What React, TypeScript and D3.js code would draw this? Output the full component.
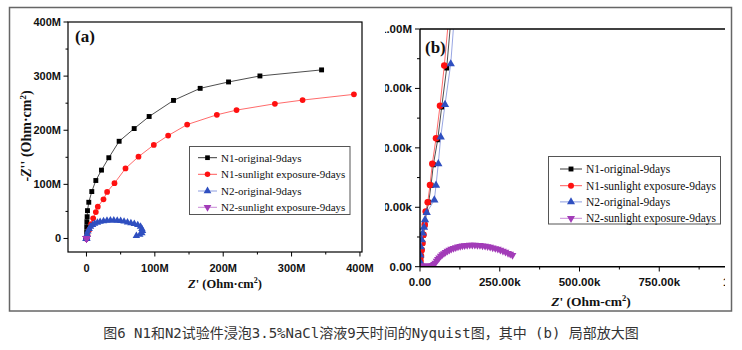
import * as d3 from "d3";

// Nyquist data, [Z', -Z''] in Ohm·cm²
const n1Original: [number, number][] = [
  [300, 5e3], [1.5e3, 24e3], [3e3, 45e3], [5e3, 70e3], [8e3, 100e3], [11e3, 134e3],
  [15e3, 176e3], [20e3, 228e3], [27.3e3, 271e3], [34.5e3, 342e3], [41.8e3, 429e3],
  [55.5e3, 534e3], [68e3, 672e3], [83.7e3, 836e3], [120e3, 1.4e6], [0.2e6, 3e6],
  [0.3e6, 12.4e6], [0.4e6, 21.7e6], [0.6e6, 31e6], [1.0e6, 40.2e6], [1.5e6, 51.4e6],
  [3.4e6, 66.9e6], [7.8e6, 86.7e6], [13.7e6, 107.1e6], [22e6, 126.3e6], [32.7e6, 149.2e6],
  [47.8e6, 179.6e6], [69.8e6, 203.1e6], [91.7e6, 225.4e6], [127.3e6, 255.1e6],
  [166.3e6, 277.4e6], [207.8e6, 289.2e6], [253.7e6, 300.3e6], [343.9e6, 311.5e6],
];

const n1Sunlight: [number, number][] = [
  [200, 4e3], [600, 11e3], [1.5e3, 24e3], [3e3, 45e3], [5.3e3, 70e3], [7.8e3, 100e3],
  [11e3, 134e3], [14.7e3, 176e3], [17.9e3, 232e3], [24.2e3, 271e3], [31.4e3, 344e3],
  [38.6e3, 433e3], [50.2e3, 540e3], [62.7e3, 677e3], [76.2e3, 846e3], [105e3, 1.27e6],
  [1.5e6, 6.2e6], [3.9e6, 15.5e6], [6.8e6, 26.6e6], [9.8e6, 37.2e6], [13.7e6, 48.9e6],
  [16.6e6, 58.8e6], [24.9e6, 72.4e6], [30.2e6, 86.1e6], [41e6, 102.2e6], [57.1e6, 129.4e6],
  [76.1e6, 151.1e6], [98.5e6, 172.8e6], [119.5e6, 190.1e6], [147.3e6, 210.5e6],
  [190.7e6, 228.5e6], [219.5e6, 237.2e6], [275.6e6, 248.9e6], [316.1e6, 255.7e6],
  [391.2e6, 266.3e6],
];

const n2Original: [number, number][] = [
  [300, 21e3], [1e3, 49e3], [2.2e3, 84e3], [5.3e3, 113e3], [8.5e3, 141e3], [12.5e3, 166e3],
  [15.7e3, 197e3], [21e3, 228e3], [44.9e3, 280e3], [50.2e3, 342e3], [57.4e3, 433e3],
  [64.9e3, 545e3], [78.4e3, 682e3], [96.3e3, 853e3], [130e3, 1.45e6], [0.3e6, 3e6],
  [1e6, 8e6], [2e6, 13e6], [4e6, 18e6], [6e6, 22e6], [9e6, 25e6], [12e6, 27.5e6],
  [16e6, 29.5e6], [20e6, 31e6], [25e6, 32e6], [30e6, 33e6], [35e6, 33.5e6], [40e6, 33.5e6],
  [45e6, 33e6], [50e6, 32.5e6], [55e6, 31.5e6], [60e6, 30e6], [65e6, 28.5e6], [70e6, 27e6],
  [75e6, 25e6], [79e6, 22e6], [81e6, 18e6], [82e6, 14e6], [81e6, 10e6], [78e6, 7e6],
  [73e6, 5e6],
];

const n2Sunlight: [number, number][] = [
  [0, 0], [1e3, 1e3], [2e3, 2e3], [3e3, 2.5e3], [5e3, 3e3], [8e3, 3e3], [12e3, 3e3],
  [16e3, 3e3], [20e3, 3e3], [25e3, 3e3], [30e3, 3.5e3], [35e3, 4e3], [40e3, 6e3],
  [44e3, 10e3], [48e3, 16e3], [52e3, 24e3], [56e3, 31e3], [60e3, 38e3], [65e3, 45e3],
  [70e3, 51e3], [75e3, 56e3], [80e3, 61e3], [86e3, 66e3], [92e3, 70e3], [98e3, 74e3],
  [105e3, 78e3], [112e3, 81e3], [119e3, 84e3], [126e3, 86e3], [133e3, 88e3], [140e3, 89e3],
  [148e3, 90e3], [156e3, 91e3], [164e3, 91e3], [172e3, 91e3], [180e3, 90.5e3],
  [188e3, 90e3], [196e3, 88.5e3], [204e3, 87e3], [212e3, 85e3], [220e3, 83e3],
  [228e3, 80e3], [236e3, 77e3], [244e3, 74e3], [252e3, 70e3], [260e3, 66e3],
  [268e3, 62e3], [276e3, 57e3], [283e3, 53e3], [290e3, 48e3],
];

const seriesNames = [
  "N1-original-9days",
  "N1-sunlight exposure-9days",
  "N2-original-9days",
  "N2-sunlight exposure-9days",
];

const aTicks = [0, 100e6, 200e6, 300e6, 400e6];
const aTickLabels = ["0", "100M", "200M", "300M", "400M"];
const aMinorTicks = [50e6, 150e6, 250e6, 350e6];

const bTicks = [0, 250e3, 500e3, 750e3, 1e6];
const bTickLabels = ["0.00", "250.00k", "500.00k", "750.00k", "1.00M"];
const bMinorTicks = [125e3, 375e3, 625e3, 875e3];

const caption = "图6 N1和N2试验件浸泡3.5%NaCl溶液9天时间的Nyquist图，其中 (b) 局部放大图";

const series = [
  { data: n1Original, symbol: d3.symbolSquare, fill: "#000", line: "#3a3a3a", rot: 0 },
  { data: n1Sunlight, symbol: d3.symbolCircle, fill: "#ff1010", line: "#ff5a5a", rot: 0 },
  { data: n2Original, symbol: d3.symbolTriangle, fill: "#2f4fc0", line: "#8c9ce0", rot: 0 },
  { data: n2Sunlight, symbol: d3.symbolTriangle, fill: "#a23cb8", line: "#c98ad8", rot: 180 },
];

const tickFont = "'Liberation Sans', Arial, sans-serif";
const serif = "'Liberation Serif', 'Times New Roman', serif";

type Scale = d3.ScaleLinear<number, number>;

function Markers({ x, y, sizes }: { x: Scale; y: Scale; sizes: number[] }) {
  return (
    <>
      {series.map((s, i) => {
        const line = d3.line<[number, number]>().x((d) => x(d[0])).y((d) => y(d[1]));
        const sym = d3.symbol().type(s.symbol).size(sizes[i])() as string;
        return (
          <g key={i}>
            <path d={line(s.data) as string} fill="none" stroke={s.line} strokeWidth={0.9} />
            {s.data.map((d, j) => (
              <path
                key={j}
                d={sym}
                fill={s.fill}
                transform={`translate(${x(d[0])},${y(d[1])}) rotate(${s.rot})`}
              />
            ))}
          </g>
        );
      })}
    </>
  );
}

function Legend({ x0, y0, w, h, rows, lineX, fontSize, sizes }: any) {
  return (
    <g>
      <rect x={x0} y={y0} width={w} height={h} fill="#fff" stroke="#555" strokeWidth={1} />
      {series.map((s, i) => {
        const sym = d3.symbol().type(s.symbol).size(sizes[i])() as string;
        const cy = rows[i];
        const mid = (lineX[0] + lineX[1]) / 2;
        return (
          <g key={i}>
            <line x1={lineX[0]} x2={lineX[1]} y1={cy} y2={cy} stroke={s.line} strokeWidth={1} />
            <path d={sym} fill={s.fill} transform={`translate(${mid},${cy}) rotate(${s.rot})`} />
            <text x={lineX[1] + 4} y={cy + 4} fontFamily={serif} fontSize={fontSize} fill="#111">
              {seriesNames[i]}
            </text>
          </g>
        );
      })}
    </g>
  );
}

export default function App() {
  const xa = d3.scaleLinear().domain([-27e6, 403e6]).range([68, 362]);
  const ya = d3.scaleLinear().domain([-25e6, 400e6]).range([252, 22]);
  const xb = d3.scaleLinear().domain([0, 1e6]).range([420, 739]);
  const yb = d3.scaleLinear().domain([0, 1e6]).range([266.7, 29]);

  const aSizes = [24, 26, 24, 24];
  const bSizes = [26, 34, 30, 26];

  return (
    <svg
      width={742}
      height={350}
      style={{ position: "absolute", left: 0, top: 0, background: "#fff" }}
    >
      <defs>
        <clipPath id="clipA">
          <rect x={68} y={22} width={294} height={230} />
        </clipPath>
        <clipPath id="clipB">
          <rect x={420} y={29} width={304} height={237.7} />
        </clipPath>
        {/* panel (b) is a cropped picture: its left labels and right edge are cut */}
        <clipPath id="clipBPanel">
          <rect x={385} y={0} width={340} height={312} />
        </clipPath>
      </defs>

      {/* outer frame */}
      <rect x={9.5} y={7.5} width={722} height={303.5} fill="none" stroke="#666" strokeWidth={1.5} />

      {/* ---------- panel (a) ---------- */}
      <g clipPath="url(#clipA)">
        <Markers x={xa} y={ya} sizes={aSizes} />
      </g>
      <rect x={68} y={22} width={294} height={230} fill="none" stroke="#000" strokeWidth={1.2} />
      {aTicks.map((t, i) => (
        <g key={"ay" + i}>
          <line x1={68} x2={63.5} y1={ya(t)} y2={ya(t)} stroke="#000" strokeWidth={1} />
          <text x={61} y={ya(t) + 4} textAnchor="end" fontFamily={tickFont} fontWeight="bold" fontSize={11} fill="#111">
            {aTickLabels[i]}
          </text>
        </g>
      ))}
      {aMinorTicks.map((t, i) => (
        <line key={"aym" + i} x1={68} x2={65.5} y1={ya(t)} y2={ya(t)} stroke="#000" strokeWidth={1} />
      ))}
      {aTicks.map((t, i) => (
        <g key={"ax" + i}>
          <line x1={xa(t)} x2={xa(t)} y1={252} y2={256.5} stroke="#000" strokeWidth={1} />
          <text x={xa(t)} y={272} textAnchor="middle" fontFamily={tickFont} fontWeight="bold" fontSize={11} fill="#111">
            {aTickLabels[i]}
          </text>
        </g>
      ))}
      {aMinorTicks.map((t, i) => (
        <line key={"axm" + i} x1={xa(t)} x2={xa(t)} y1={252} y2={254.5} stroke="#000" strokeWidth={1} />
      ))}
      <text x={225} y={288} textAnchor="middle" fontFamily={serif} fontWeight="bold" fontSize={12.5} fill="#111">
        <tspan fontStyle="italic">Z</tspan>' (Ohm·cm<tspan dy={-5} fontSize={8}>2</tspan>
        <tspan dy={5}>)</tspan>
      </text>
      <text
        transform="translate(31,136) rotate(-90)"
        textAnchor="middle"
        fontFamily={serif}
        fontWeight="bold"
        fontSize={14}
        fill="#111"
      >
        -<tspan fontStyle="italic">Z</tspan>'' (Ohm·cm<tspan dy={-5} fontSize={9}>2</tspan>
        <tspan dy={5}>)</tspan>
      </text>
      <text x={75} y={42} fontFamily={serif} fontWeight="bold" fontSize={17} fill="#111">
        (a)
      </text>
      <Legend
        x0={189.5}
        y0={146.5}
        w={160.5}
        h={68}
        rows={[157.7, 174.3, 191, 207.3]}
        lineX={[198, 217]}
        fontSize={11}
        sizes={[22, 24, 26, 26]}
      />

      {/* ---------- panel (b) ---------- */}
      <g clipPath="url(#clipBPanel)">
        <g clipPath="url(#clipB)">
          <Markers x={xb} y={yb} sizes={bSizes} />
        </g>
        <line x1={420} x2={740} y1={29} y2={29} stroke="#000" strokeWidth={1.4} />
        <line x1={420} x2={420} y1={29} y2={267} stroke="#000" strokeWidth={1.4} />
        <line x1={420} x2={740} y1={266.7} y2={266.7} stroke="#000" strokeWidth={1.4} />
        {bTicks.map((t, i) => (
          <g key={"by" + i}>
            <line x1={420} x2={415} y1={yb(t)} y2={yb(t)} stroke="#000" strokeWidth={1} />
            <text x={412} y={yb(t) + 4} textAnchor="end" fontFamily={tickFont} fontWeight="bold" fontSize={11.5} fill="#111">
              {bTickLabels[i]}
            </text>
          </g>
        ))}
        {bMinorTicks.map((t, i) => (
          <line key={"bym" + i} x1={420} x2={417} y1={yb(t)} y2={yb(t)} stroke="#000" strokeWidth={1} />
        ))}
        {bTicks.map((t, i) => (
          <g key={"bx" + i}>
            <line x1={xb(t)} x2={xb(t)} y1={266.7} y2={271.5} stroke="#000" strokeWidth={1} />
            <text x={xb(t)} y={286} textAnchor="middle" fontFamily={tickFont} fontWeight="bold" fontSize={11.5} fill="#111">
              {bTickLabels[i]}
            </text>
          </g>
        ))}
        {bMinorTicks.map((t, i) => (
          <line key={"bxm" + i} x1={xb(t)} x2={xb(t)} y1={266.7} y2={269.5} stroke="#000" strokeWidth={1} />
        ))}
        <text x={591} y={306} textAnchor="middle" fontFamily={serif} fontWeight="bold" fontSize={13.5} fill="#111">
          <tspan fontStyle="italic">Z</tspan>' (Ohm-cm<tspan dy={-5} fontSize={8.5}>2</tspan>
          <tspan dy={5}>)</tspan>
        </text>
        <text x={425} y={53} fontFamily={serif} fontWeight="bold" fontSize={17} fill="#111">
          (b)
        </text>
        <Legend
          x0={548.5}
          y0={156.5}
          w={172}
          h={67.5}
          rows={[169, 185.7, 201.9, 218.3]}
          lineX={[560, 582]}
          fontSize={11.5}
          sizes={[24, 28, 28, 28]}
        />
      </g>

      {/* caption */}
      <text
        x={371}
        y={338}
        textAnchor="middle"
        fontFamily="'DejaVu Sans Mono', 'Noto Sans CJK SC', monospace"
        fontSize={14}
        fill="#333"
      >
        {caption}
      </text>
    </svg>
  );
}
